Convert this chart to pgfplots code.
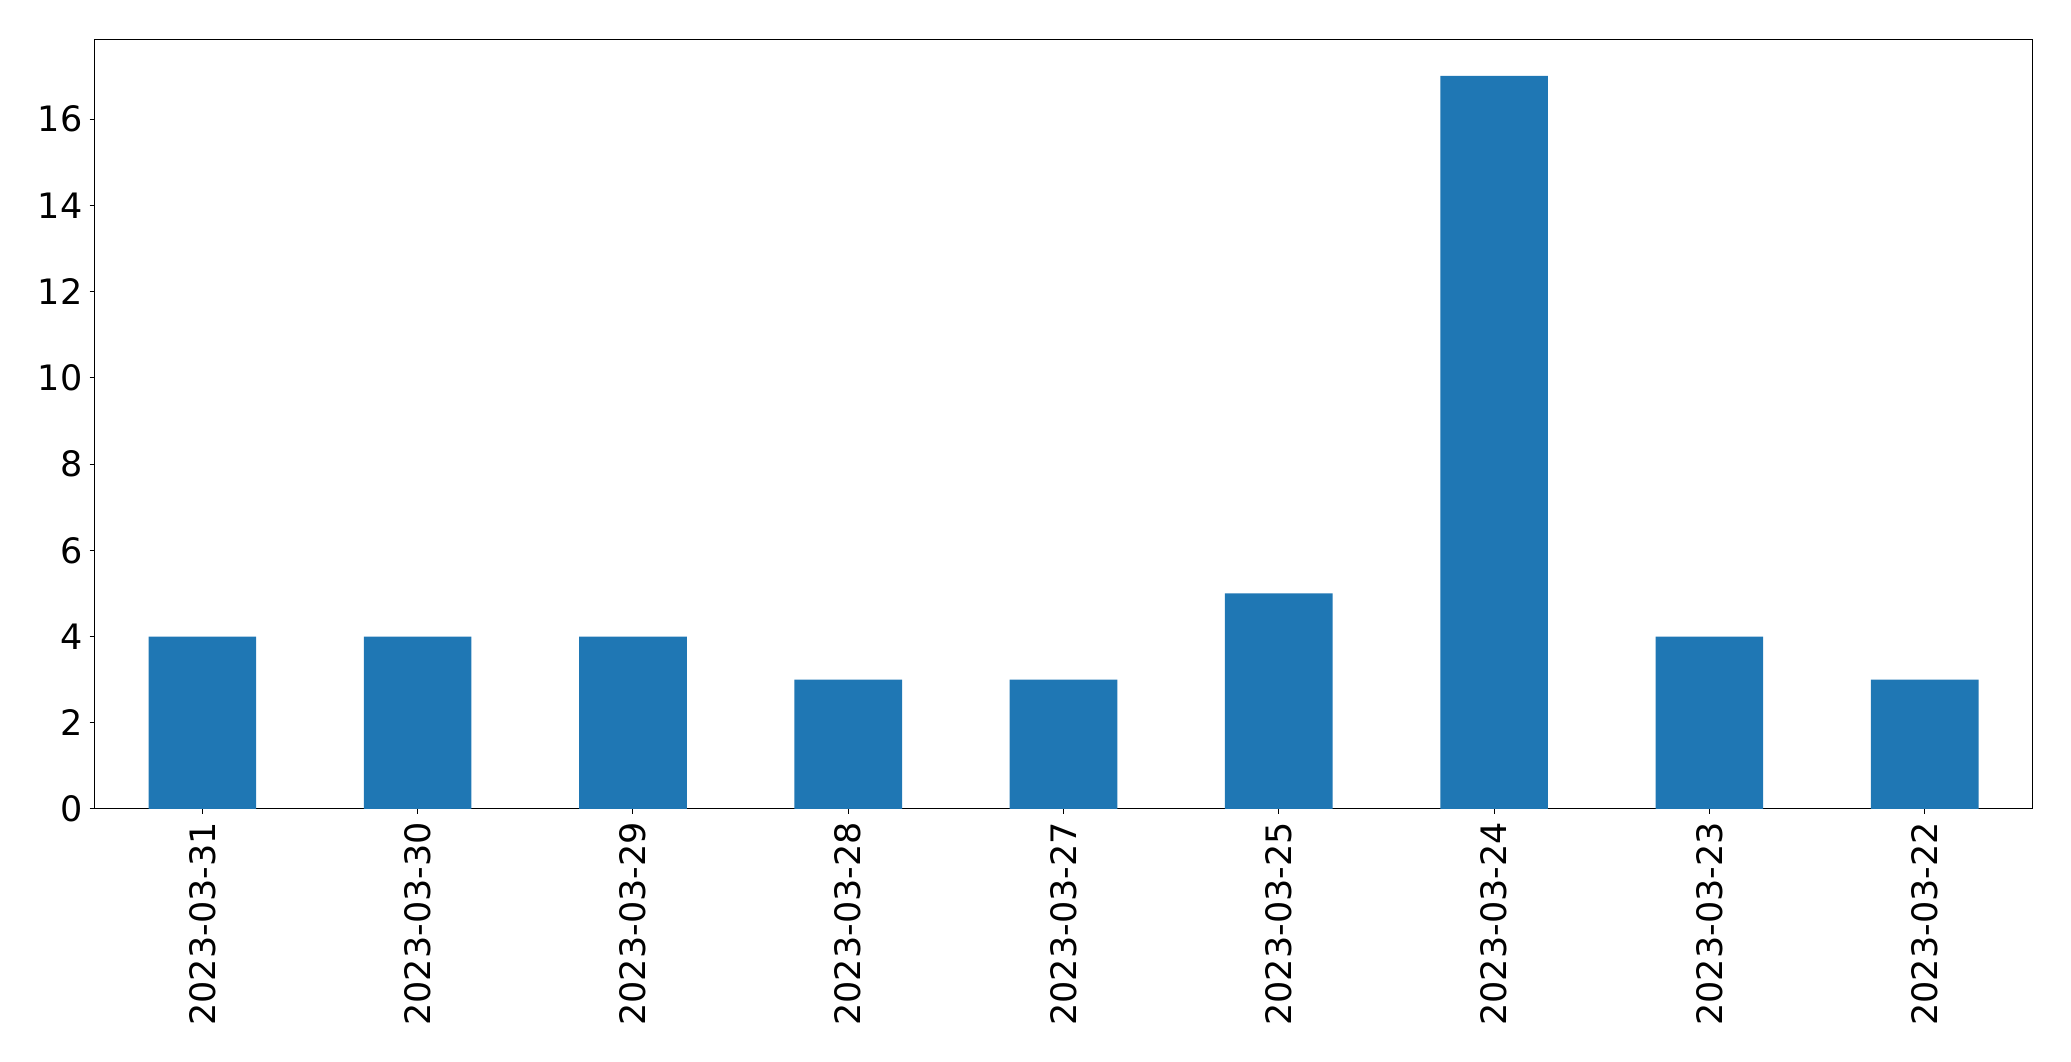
\documentclass[border=0pt]{standalone}
\usepackage{pgfplots}
\pgfplotsset{compat=1.18}
\usepackage{fontspec}
\setmainfont{DejaVu Sans}
\definecolor{mplblue}{HTML}{1F77B4}
\begin{document}
\fontsize{35bp}{42bp}\selectfont
\begin{tikzpicture}[x=1bp,y=1bp]
\useasboundingbox (0,0) rectangle (2071,1061);
\begin{axis}[
  at={(94.7bp,252bp)}, anchor=south west,
  scale only axis, width=1937.6bp, height=769.7bp,
  xmin=-0.5, xmax=8.5, ymin=0, ymax=17.85,
  xtick={0,1,2,3,4,5,6,7,8},
  xticklabels={2023-03-31,2023-03-30,2023-03-29,2023-03-28,2023-03-27,2023-03-25,2023-03-24,2023-03-23,2023-03-22},
  ytick={0,2,4,6,8,10,12,14,16},
  tick align=outside, tick pos=left,
  major tick length=5bp,
  every tick/.style={black, line width=1bp},
  axis line style={line width=1bp},
  /pgf/number format/assume math mode=true,
  ticklabel style={font=\fontsize{35bp}{42bp}\selectfont, inner sep=0pt},
  yticklabel style={anchor=east, xshift=-7bp},
  xticklabel style={rotate=90, anchor=east, xshift=-8bp},
  clip=false,
]
\addplot[ybar, bar width=0.5, fill=mplblue, draw=none] coordinates {
(0,4) (1,4) (2,4) (3,3) (4,3) (5,5) (6,17) (7,4) (8,3)
};
\end{axis}
\end{tikzpicture}
\end{document}
